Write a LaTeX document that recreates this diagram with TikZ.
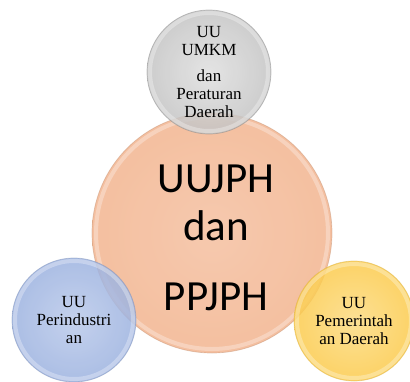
\documentclass[tikz,border=0pt]{standalone}
\usepackage{fontspec}
\setmainfont{Liberation Serif}
\newfontfamily\calib{Carlito}
\definecolor{peach}{HTML}{F2B48F}
\definecolor{greyb}{HTML}{C4C4C4}
\definecolor{blueb}{HTML}{9CB2E0}
\definecolor{yellowb}{HTML}{FBCB4C}
\begin{document}
\begin{tikzpicture}[x=1pt,y=-1pt,
  bubble/.style={circle, inner sep=0pt, align=center, text=black, text opacity=1,
    fill opacity=0.85, draw opacity=0.45, line width=0.7pt},
  rim/.style={white, opacity=0.3, line width=4pt},
  small/.style={font=\fontsize{17}{18}\selectfont},
  big/.style={font=\calib\fontsize{43}{47}\selectfont, anchor=base}]
\useasboundingbox (0,0) rectangle (410,381);
% main circle
\node[bubble, minimum size=240pt, inner color=peach!85!white, outer color=peach, draw=peach!80!black] (main) at (212,233) {};
\draw[rim] (main.center) circle (116pt);
\node[big] (t1) at (216,192) {UUJPH};
\node[big] (t2) at (216,240) {dan};
\node[big] (t3) at (216,310) {PPJPH};
% top bubble
\node[bubble, minimum size=124pt, inner color=greyb!55!white, outer color=greyb, draw=gray, small] (top) at (209,72) {UU\\UMKM\\[8pt]dan\\Peraturan\\Daerah};
\draw[rim] (top.center) circle (59pt);
% left bubble
\node[bubble, minimum size=124pt, inner color=blueb!70!white, outer color=blueb, draw=blueb!80!black, small] (left) at (74,320) {UU\\Perindustri\\an};
\draw[rim] (left.center) circle (59pt);
% right bubble
\node[bubble, minimum size=120pt, inner color=yellowb!70!white, outer color=yellowb, draw=yellowb!85!black, small] (right) at (354,321) {UU\\Pemerintah\\an Daerah};
\draw[rim] (right.center) circle (57pt);
\end{tikzpicture}
\end{document}
